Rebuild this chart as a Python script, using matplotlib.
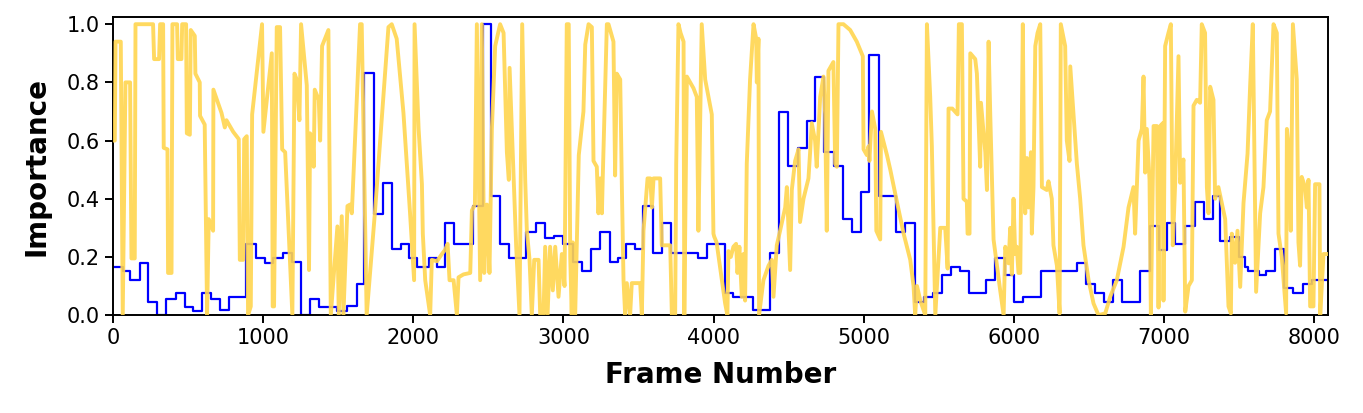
import matplotlib
matplotlib.use("Agg")
import matplotlib.pyplot as plt

# Blue step series: segment start frames and values
blue_frames = [0, 67, 111, 178, 233, 295, 355, 417, 477, 533, 595, 655, 710, 773, 884, 950,
               1010, 1068, 1130, 1190, 1250, 1312, 1374, 1494, 1556, 1623, 1674, 1738, 1796,
               1856, 1916, 1974, 2023, 2101, 2157, 2212, 2272, 2396, 2467, 2516, 2578, 2640,
               2752, 2818, 2878, 2934, 2999, 3062, 3122, 3182, 3244, 3311, 3366, 3418, 3478,
               3533, 3595, 3655, 3717, 3899, 3955, 4077, 4132, 4261, 4377, 4439, 4499, 4559,
               4621, 4676, 4736, 4799, 4861, 4921, 4981, 5038, 5099, 5217, 5277, 5339, 5399,
               5461, 5521, 5581, 5643, 5699, 5816, 5876, 5938, 5998, 6058, 6180, 6420, 6482,
               6542, 6604, 6664, 6720, 6842, 6904, 6964, 7020, 7075, 7142, 7208, 7264, 7326,
               7375, 7441, 7497, 7541, 7563, 7630, 7681, 7741, 7801, 7861, 7925, 7985, 8090]
blue_values = [0.167, 0.152, 0.12, 0.18, 0.044, 0.0, 0.057, 0.075, 0.029, 0.015, 0.075, 0.057,
               0.017, 0.061, 0.244, 0.195, 0.18, 0.195, 0.213, 0.184, 0.0, 0.057, 0.029, 0.015,
               0.031, 0.107, 0.833, 0.348, 0.454, 0.226, 0.244, 0.195, 0.167, 0.195, 0.167,
               0.318, 0.244, 0.375, 1.0, 0.409, 0.244, 0.195, 0.287, 0.318, 0.264, 0.272,
               0.244, 0.184, 0.152, 0.226, 0.287, 0.184, 0.195, 0.244, 0.226, 0.376, 0.215,
               0.318, 0.215, 0.195, 0.244, 0.075, 0.061, 0.017, 0.213, 0.698, 0.514, 0.575,
               0.667, 0.82, 0.56, 0.514, 0.331, 0.287, 0.423, 0.893, 0.409, 0.287, 0.318,
               0.046, 0.063, 0.075, 0.138, 0.164, 0.152, 0.075, 0.12, 0.195, 0.138, 0.046,
               0.061, 0.152, 0.18, 0.107, 0.075, 0.046, 0.12, 0.046, 0.152, 0.305, 0.224,
               0.318, 0.244, 0.305, 0.39, 0.331, 0.409, 0.256, 0.268, 0.2, 0.167, 0.152,
               0.138, 0.152, 0.226, 0.092, 0.077, 0.107, 0.12, 0.12]

# Yellow series: frame numbers and importance values
yellow_frames = [0, 11, 16, 51, 64, 82, 113, 122, 144, 149, 266, 273, 306, 313, 333, 337, 362,
                 366, 389, 395, 426, 431, 455, 460, 486, 491, 511, 517, 544, 548, 577, 579, 610,
                 626, 637, 666, 668, 722, 744, 755, 800, 837, 844, 866, 873, 890, 899, 917, 926,
                 992, 1001, 1057, 1063, 1072, 1090, 1112, 1126, 1146, 1194, 1208, 1223, 1241,
                 1252, 1290, 1305, 1312, 1330, 1336, 1343, 1370, 1379, 1392, 1434, 1450, 1494,
                 1503, 1523, 1534, 1561, 1578, 1590, 1645, 1656, 1689, 1745, 1834, 1856, 1889,
                 1934, 1978, 2005, 2008, 2035, 2057, 2063, 2079, 2112, 2123, 2157, 2190, 2212,
                 2228, 2241, 2268, 2290, 2301, 2334, 2379, 2390, 2410, 2423, 2445, 2456, 2472,
                 2490, 2507, 2523, 2545, 2578, 2601, 2623, 2636, 2641, 2656, 2685, 2707, 2725,
                 2745, 2756, 2774, 2789, 2805, 2834, 2845, 2867, 2878, 2894, 2911, 2929, 2945,
                 2967, 2989, 3007, 3022, 3035, 3045, 3055, 3062, 3078, 3102, 3133, 3145, 3167,
                 3189, 3200, 3222, 3233, 3244, 3256, 3262, 3289, 3300, 3333, 3344, 3355, 3378,
                 3389, 3400, 3411, 3422, 3444, 3455, 3489, 3511, 3522, 3533, 3560, 3578, 3589,
                 3600, 3622, 3644, 3655, 3711, 3722, 3744, 3751, 3766, 3780, 3800, 3805, 3822,
                 3866, 3888, 3899, 3921, 3944, 3988, 3999, 4004, 4020, 4055, 4077, 4092, 4099,
                 4115, 4132, 4150, 4159, 4172, 4188, 4199, 4210, 4221, 4243, 4266, 4284, 4288,
                 4299, 4303, 4332, 4366, 4388, 4399, 4421, 4443, 4477, 4488, 4510, 4521, 4543,
                 4566, 4576, 4599, 4632, 4643, 4654, 4676, 4687, 4710, 4732, 4743, 4754, 4765,
                 4798, 4810, 4821, 4832, 4865, 4910, 4954, 4994, 4999, 5021, 5032, 5038, 5055,
                 5077, 5084, 5110, 5115, 5155, 5177, 5221, 5266, 5310, 5332, 5343, 5355, 5377,
                 5410, 5421, 5443, 5454, 5477, 5510, 5543, 5559, 5565, 5590, 5625, 5634, 5654,
                 5665, 5687, 5692, 5705, 5710, 5743, 5754, 5776, 5781, 5810, 5821, 5832, 5843,
                 5865, 5909, 5932, 5943, 5965, 5976, 5987, 5998, 6009, 6020, 6031, 6043, 6060,
                 6069, 6076, 6087, 6098, 6114, 6120, 6131, 6143, 6158, 6176, 6187, 6220, 6231,
                 6253, 6264, 6287, 6305, 6313, 6342, 6353, 6371, 6376, 6398, 6420, 6442, 6464,
                 6498, 6531, 6564, 6609, 6642, 6686, 6731, 6764, 6797, 6808, 6831, 6853, 6864,
                 6875, 6886, 6904, 6913, 6931, 6953, 6964, 6975, 6993, 6997, 7008, 7030, 7046,
                 7059, 7075, 7097, 7108, 7130, 7142, 7164, 7186, 7197, 7219, 7241, 7252, 7274,
                 7286, 7297, 7308, 7330, 7341, 7363, 7408, 7430, 7446, 7452, 7474, 7490, 7508,
                 7530, 7557, 7574, 7592, 7614, 7641, 7663, 7685, 7707, 7730, 7752, 7763, 7785,
                 7814, 7819, 7830, 7845, 7859, 7885, 7896, 7907, 7918, 7940, 7952, 7963, 7974,
                 7996, 8007, 8036, 8041, 8063, 8090]
yellow_values = [0.60, 0.60, 0.94, 0.94, 0.0, 0.80, 0.80, 0.195, 0.195, 1.0, 1.0, 0.88, 0.88,
                 1.0, 1.0, 0.575, 0.57, 0.145, 0.145, 1.0, 1.0, 0.88, 0.88, 1.0, 1.0, 0.625,
                 0.62, 0.98, 0.96, 0.83, 0.80, 0.685, 0.655, 0.0, 0.33, 0.29, 0.775, 0.695,
                 0.645, 0.67, 0.63, 0.605, 0.19, 0.19, 0.605, 0.615, 0.0, 0.03, 0.69, 1.0,
                 0.63, 0.90, 0.03, 0.03, 0.99, 0.99, 0.57, 0.56, 0.0, 0.83, 0.81, 0.67, 1.0,
                 0.79, 0.155, 0.625, 0.60, 0.51, 0.775, 0.74, 0.60, 0.925, 0.98, 0.0, 0.305,
                 0.0, 0.34, 0.0, 0.375, 0.38, 0.35, 1.0, 1.0, 0.0, 0.36, 0.99, 1.0, 0.95,
                 0.695, 0.35, 0.12, 1.0, 0.64, 0.45, 0.28, 0.12, 0.0, 0.19, 0.185, 0.21,
                 0.225, 0.245, 0.12, 0.12, 0.0, 0.13, 0.14, 0.145, 0.36, 0.38, 1.0, 0.12,
                 1.0, 0.145, 0.38, 0.145, 0.64, 0.925, 1.0, 0.97, 0.56, 0.465, 0.85, 0.64,
                 0.235, 0.0, 1.0, 0.465, 0.29, 0.19, 0.0, 0.19, 0.19, 0.0, 0.0, 0.235, 0.0,
                 0.235, 0.085, 0.235, 0.063, 0.21, 0.1, 1.0, 1.0, 0.2, 0.0, 0.25, 0.0, 0.55,
                 0.7, 0.93, 1.0, 0.99, 0.53, 0.51, 0.35, 0.47, 0.35, 0.48, 1.0, 1.0, 0.94,
                 0.48, 0.83, 0.81, 0.44, 0.12, 0.0, 0.11, 0.0, 0.11, 0.11, 0.11, 0.0, 0.29,
                 0.47, 0.47, 0.37, 0.47, 0.47, 0.47, 0.24, 0.24, 0.0, 0.0, 0.52, 1.0, 0.97,
                 0.94, 0.0, 0.82, 0.78, 0.75, 0.29, 1.0, 0.81, 0.69, 0.28, 0.27, 0.25, 0.12,
                 0.04, 0.0, 0.22, 0.2, 0.235, 0.245, 0.145, 0.235, 0.063, 0.21, 0.05, 0.52,
                 0.81, 1.0, 0.95, 0.80, 0.95, 0.0, 0.12, 0.17, 0.19, 0.063, 0.24, 0.29, 0.37,
                 0.44, 0.155, 0.43, 0.53, 0.57, 0.32, 0.40, 0.47, 0.56, 0.66, 0.60, 0.51,
                 0.75, 0.82, 0.69, 0.29, 0.84, 0.87, 0.52, 0.51, 1.0, 1.0, 0.98, 0.94, 0.89,
                 0.57, 0.55, 0.58, 0.53, 0.70, 0.64, 0.29, 0.26, 0.63, 0.55, 0.50, 0.39, 0.28,
                 0.19, 0.10, 0.0, 0.1, 0.05, 0.0, 1.0, 0.75, 0.58, 0.0, 0.30, 0.30, 0.16,
                 0.71, 0.71, 0.69, 1.0, 1.0, 0.40, 0.39, 0.28, 0.28, 0.90, 0.88, 0.83, 0.51,
                 0.73, 0.56, 0.43, 0.94, 0.69, 0.26, 0.086, 0.0, 0.235, 0.178, 0.30, 0.14,
                 0.40, 0.21, 0.235, 0.145, 0.145, 1.0, 0.44, 0.35, 0.54, 0.37, 0.56, 0.28,
                 0.44, 0.925, 0.97, 1.0, 0.44, 0.43, 0.46, 0.40, 0.24, 0.17, 0.006, 1.0,
                 0.925, 0.60, 0.53, 0.855, 0.69, 0.52, 0.40, 0.24, 0.12, 0.04, 0.0, 0.006,
                 0.063, 0.12, 0.235, 0.37, 0.44, 0.28, 0.60, 0.64, 0.82, 0.49, 0.64, 0.465,
                 0.0, 0.65, 0.65, 0.026, 0.65, 0.66, 0.05, 0.925, 0.97, 1.0, 0.24, 0.455,
                 0.89, 0.455, 0.535, 0.012, 0.10, 0.12, 0.72, 0.74, 0.73, 1.0, 0.97, 0.44,
                 0.35, 0.785, 0.74, 0.40, 0.44, 0.33, 0.03, 0.006, 0.28, 0.18, 0.29, 0.097,
                 0.385, 0.555, 0.785, 1.0, 0.08, 0.35, 0.44, 0.67, 0.70, 1.0, 0.97, 0.28,
                 0.20, 0.006, 0.64, 0.58, 0.29, 1.0, 0.81, 0.25, 0.17, 0.475, 0.44, 0.37,
                 0.465, 0.03, 0.03, 0.45, 0.45, 0.0, 0.21, 0.21]

x_ticks = [0, 1000, 2000, 3000, 4000, 5000, 6000, 7000, 8000]
y_ticks = [0.0, 0.2, 0.4, 0.6, 0.8, 1.0]

fig = plt.figure(figsize=(13.63, 4.13), dpi=100)
ax = fig.add_axes([0.083, 0.237, 0.891, 0.722])

ax.step(blue_frames, blue_values, where='post', color='#0000FF', linewidth=1.6, zorder=2)
ax.plot(yellow_frames, yellow_values, color='#FFD54F', alpha=0.9, linewidth=2.8, zorder=3)

ax.set_xlim(0, 8090)
ax.set_ylim(0, 1.025)
ax.set_xticks(x_ticks)
ax.set_yticks(y_ticks)
ax.set_xticklabels([str(t) for t in x_ticks])
ax.set_yticklabels([f"{t:.1f}" for t in y_ticks])
ax.tick_params(axis='both', labelsize=15, width=1.4, length=6)
for s in ax.spines.values():
    s.set_linewidth(1.4)

ax.set_xlabel("Frame Number", fontsize=20, fontweight='bold', labelpad=9)
ax.set_ylabel("Importance", fontsize=20, fontweight='bold', labelpad=12)

fig.savefig("out.png", dpi=100)
